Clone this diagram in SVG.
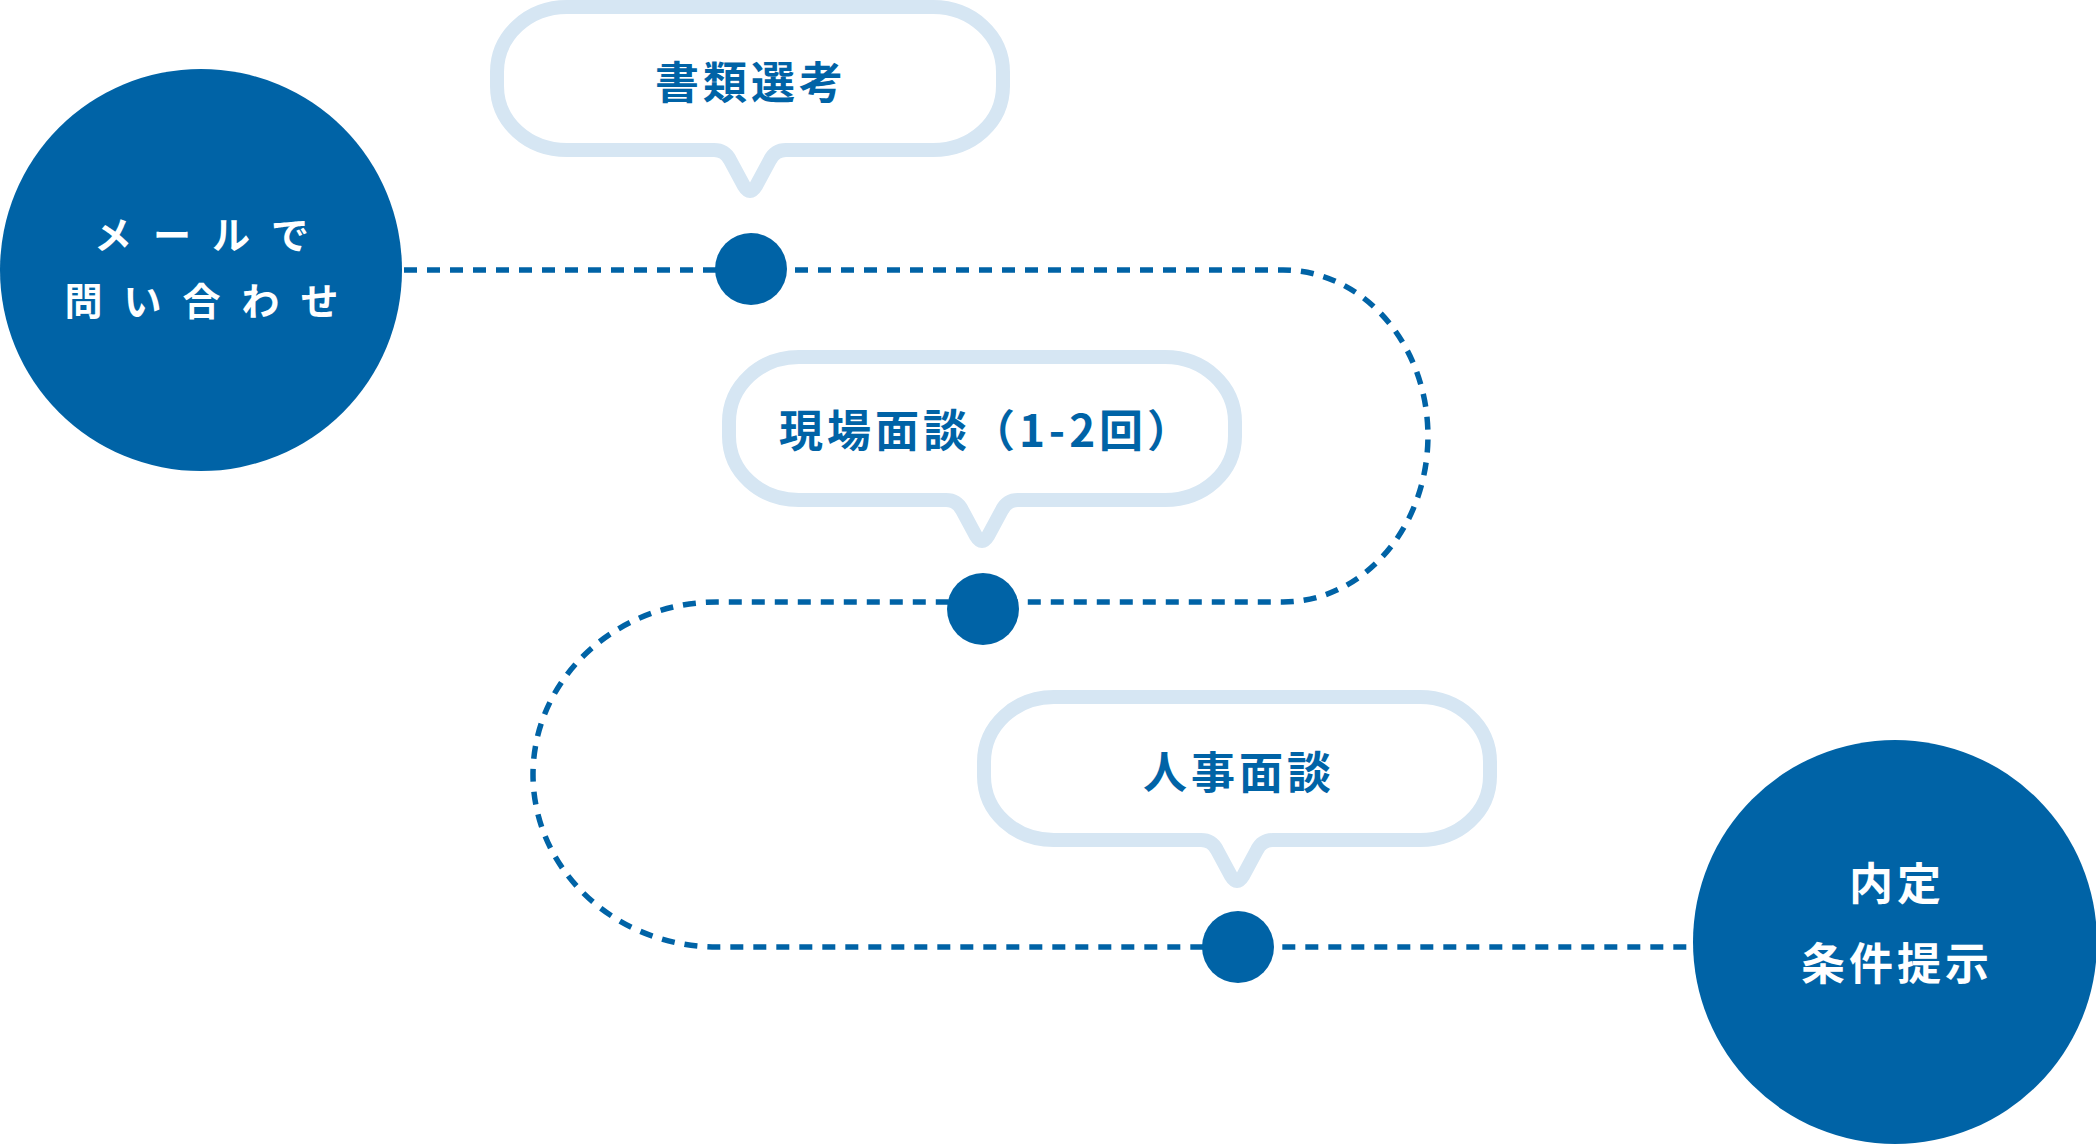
<svg xmlns="http://www.w3.org/2000/svg" width="2096" height="1144" viewBox="0 0 2096 1144">
  <style>
    .big { fill: #0063a6; }
    .dot { fill: #0063a6; }
    .bubble { fill: #ffffff; stroke: #d6e6f3; stroke-width: 14; stroke-linejoin: round; }
    .btext { font-family: "Noto Sans CJK JP", "Noto Sans", sans-serif; font-weight: 700; font-size: 44px; letter-spacing: 4px; fill: #0063a6; text-anchor: middle; }
    .ctext { font-family: "Noto Sans CJK JP", "Noto Sans", sans-serif; font-weight: 700; fill: #ffffff; text-anchor: middle; }
    .flow { fill: none; stroke: #0063a6; stroke-width: 5.5; stroke-dasharray: 13 10; }
  </style>
  <rect width="2096" height="1144" fill="#ffffff"/>
  <g id="connectors">
    <path class="flow" d="M 404 270 H 1283 A 145 166 0 0 1 1283 602 H 717 A 184 172.5 0 0 0 717 947 H 1692"/>
  </g>
  <g id="node-start">
    <circle class="big" cx="201" cy="270" r="201"/>
    <text class="ctext" x="212" y="249" font-size="38" letter-spacing="21">メールで</text>
    <text class="ctext" x="212" y="315" font-size="38" letter-spacing="21">問い合わせ</text>
  </g>
  <g id="node-shorui">
    <path class="bubble" d="M 567 7 H 933 C 972 7 1003 36 1003 72 V 86 C 1003 122 972 150 933 150 H 786 Q 775 150 770 160 L 756 186 Q 750 196 744 186 L 730 160 Q 725 150 714 150 H 567 C 528 150 497 122 497 86 V 72 C 497 36 528 7 567 7 Z"/>
    <text class="btext" x="751" y="99">書類選考</text>
    <circle class="dot" cx="751" cy="269" r="36"/>
  </g>
  <g id="node-genba">
    <path class="bubble" d="M 799 357 H 1165 C 1204 357 1235 386 1235 422 V 436 C 1235 472 1204 500 1165 500 H 1018 Q 1007 500 1002 510 L 988 536 Q 982 546 976 536 L 962 510 Q 957 500 946 500 H 799 C 760 500 729 472 729 436 V 422 C 729 386 760 357 799 357 Z"/>
    <text class="btext" x="987" y="447">現場面談（1-2回）</text>
    <circle class="dot" cx="983" cy="609" r="36"/>
  </g>
  <g id="node-jinji">
    <path class="bubble" d="M 1054 697 H 1420 C 1459 697 1490 726 1490 762 V 776 C 1490 812 1459 840 1420 840 H 1273 Q 1262 840 1257 850 L 1243 876 Q 1237 886 1231 876 L 1217 850 Q 1212 840 1201 840 H 1054 C 1015 840 984 812 984 776 V 762 C 984 726 1015 697 1054 697 Z"/>
    <text class="btext" x="1239" y="789">人事面談</text>
    <circle class="dot" cx="1238" cy="947" r="36"/>
  </g>
  <g id="node-end">
    <circle class="big" cx="1895" cy="942" r="202"/>
    <text class="ctext" x="1897" y="900" font-size="44" letter-spacing="4">内定</text>
    <text class="ctext" x="1897" y="980" font-size="44" letter-spacing="4">条件提示</text>
  </g>
</svg>
